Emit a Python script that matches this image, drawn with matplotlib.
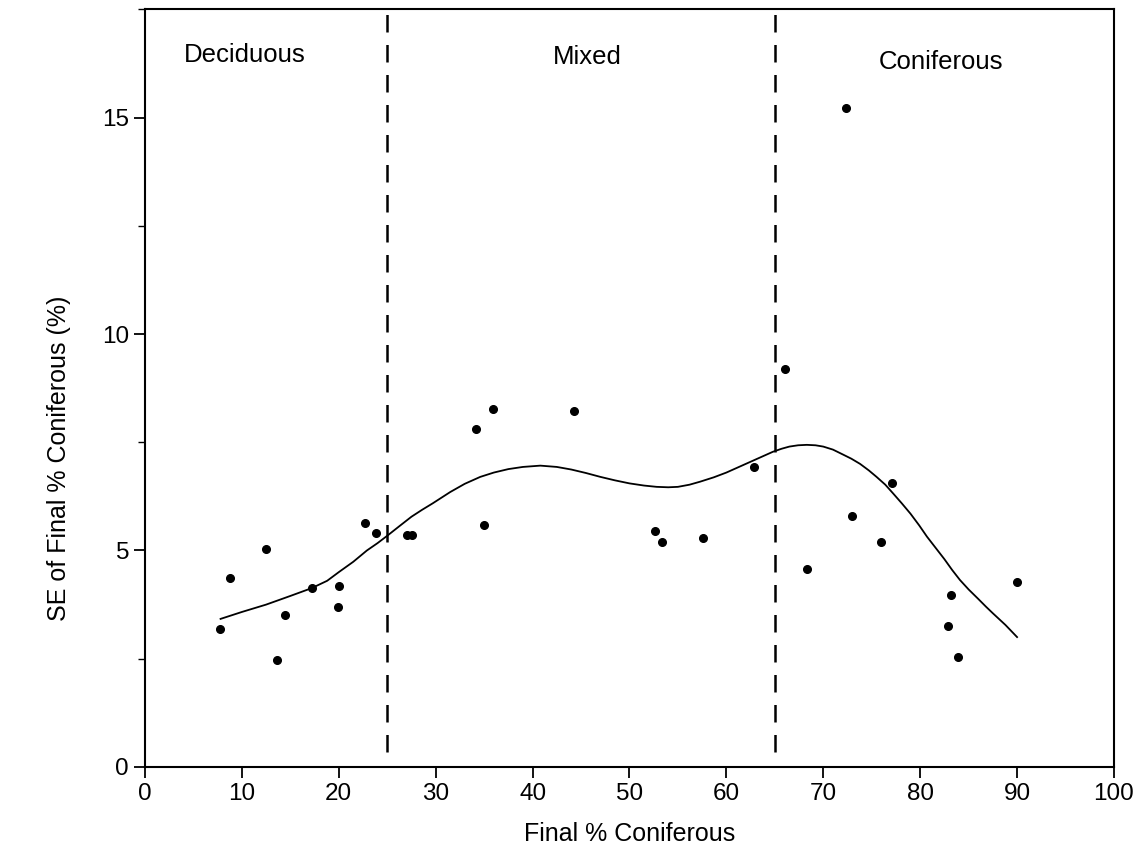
import numpy as np
import matplotlib
matplotlib.use('Agg')
import matplotlib.pyplot as plt
from matplotlib.ticker import MultipleLocator

plt.rcParams['font.family'] = ['Liberation Sans', 'DejaVu Sans']

# observed plots: final % coniferous vs SE
final_con = [7.7, 8.8, 12.5, 13.6, 14.4, 17.2, 20.0, 19.9, 22.7, 23.8, 27.0, 27.6,
             34.2, 35.9, 35.0, 44.3, 52.6, 53.4, 57.6, 62.8,
             66.0, 72.3, 68.3, 73.0, 76.0, 77.1, 83.2, 82.9, 83.9, 90.0]
se_con = [3.19, 4.37, 5.03, 2.48, 3.51, 4.13, 4.17, 3.70, 5.64, 5.40, 5.35, 5.35,
          7.80, 8.26, 5.58, 8.23, 5.44, 5.19, 5.29, 6.93,
          9.20, 15.23, 4.58, 5.80, 5.19, 6.56, 3.97, 3.26, 2.54, 4.28]

# smoothed fit
fit_x = [7.8, 10, 12.5, 15, 17.2, 18.8, 20, 21.5, 22.9, 24, 25, 26.3, 27.5, 28.6, 29.7,
         31.5, 33, 34.6, 36, 37.5, 39, 40.8, 42.5, 44, 45.5, 47, 48.5, 50, 51.5, 52.8,
         54, 55, 56.2, 57.3, 58.7, 60, 61.2, 62.5, 63.7, 64.8, 65.7, 66.5, 67.4, 68.3,
         69.2, 70, 71, 72, 72.9, 73.8, 74.7, 75.5, 76.4, 77.2, 78.1, 79, 79.9, 80.7,
         81.6, 82.5, 83.3, 84.1, 85, 86, 86.8, 87.5, 88.8, 90]
fit_y = [3.42, 3.58, 3.75, 3.95, 4.13, 4.30, 4.50, 4.74, 5.0, 5.17, 5.34, 5.57, 5.78, 5.94, 6.09,
         6.35, 6.54, 6.70, 6.80, 6.88, 6.93, 6.96, 6.93, 6.87, 6.79, 6.70, 6.62, 6.55, 6.50, 6.47,
         6.46, 6.47, 6.52, 6.59, 6.69, 6.80, 6.92, 7.05, 7.17, 7.28, 7.35, 7.40, 7.43, 7.44,
         7.43, 7.40, 7.33, 7.22, 7.12, 7.00, 6.85, 6.70, 6.52, 6.32, 6.09, 5.85, 5.58, 5.32,
         5.06, 4.80, 4.55, 4.32, 4.10, 3.88, 3.70, 3.55, 3.28, 3.0]

boundaries = [25, 65]
zone_names = ['Deciduous', 'Mixed', 'Coniferous']
zone_x = [10.3, 45.6, 82.2]
zone_y = [16.45, 16.4, 16.28]

fig = plt.figure(figsize=(11.47, 8.47), dpi=100)
ax = fig.add_axes([0.1264, 0.0945, 0.8448, 0.8945])

ax.plot(fit_x, fit_y, color='black', linewidth=1.3)
ax.plot(final_con, se_con, 'o', color='black', markersize=5.5)
for b in boundaries:
    ax.axvline(b, ymin=0.02, ymax=1, color='black', linewidth=1.8, linestyle=(0, (7, 5)))
for name, tx, ty in zip(zone_names, zone_x, zone_y):
    ax.text(tx, ty, name, ha='center', va='center', fontsize=18.5)

ax.set_xlim(0, 100)
ax.set_ylim(0, 17.5)
ax.set_xticks(np.arange(0, 101, 10))
ax.set_yticks([0, 5, 10, 15])
ax.yaxis.set_minor_locator(MultipleLocator(2.5))
ax.tick_params(axis='both', which='major', labelsize=17.5, width=1.3, length=8, direction='out')
ax.tick_params(axis='y', which='minor', width=1.0, length=5)
for s in ax.spines.values():
    s.set_linewidth(1.5)

ax.set_xlabel('Final % Coniferous', fontsize=18, labelpad=12)
ax.set_ylabel('SE of Final % Coniferous (%)', fontsize=18)
ax.yaxis.set_label_coords(-0.076, 0.408)

plt.savefig('out.png', dpi=100)
